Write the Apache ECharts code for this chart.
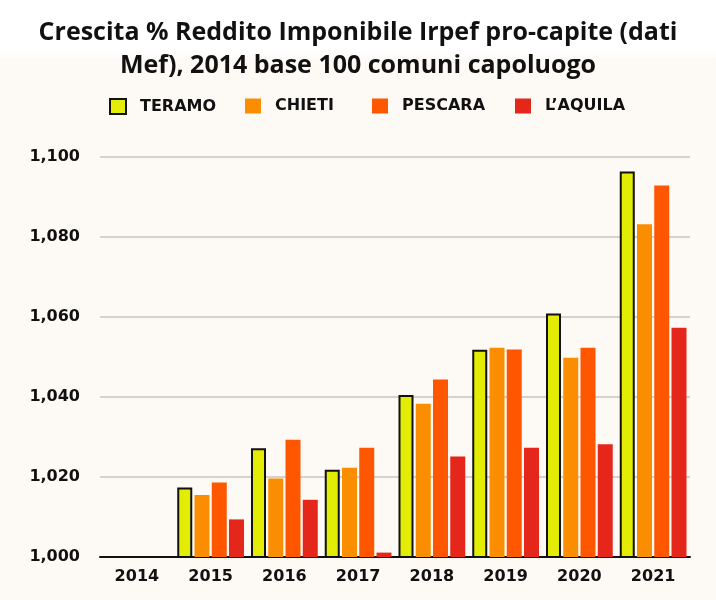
<!DOCTYPE html>
<html><head><meta charset="utf-8">
<script src="https://cdn.jsdelivr.net/npm/echarts@6/dist/echarts.min.js"></script>
<style>html,body{margin:0;padding:0;background:#fdf9f5}#c{width:716px;height:600px}</style>
</head><body><div id="c"></div>
<script>
const years = ['2014','2015','2016','2017','2018','2019','2020','2021'];
const teramo  = [1.000, 1.0174, 1.0272, 1.0218, 1.0405, 1.0518, 1.0609, 1.0964];
const chieti  = [1.000, 1.0155, 1.0196, 1.0223, 1.0383, 1.0523, 1.0498, 1.0832];
const pescara = [1.000, 1.0186, 1.0293, 1.0273, 1.0444, 1.0519, 1.0523, 1.0929];
const laquila = [1.000, 1.0094, 1.0143, 1.0011, 1.0251, 1.0273, 1.0282, 1.0573];
const seriesNames = ['TERAMO','CHIETI','PESCARA','L\u2019AQUILA'];
const yTickLabels = ['1,000','1,020','1,040','1,060','1,080','1,100'];

const chart = echarts.init(document.getElementById('c'), null, {renderer:'canvas'});
const colors = ['#e3ec04','#fb8d00','#ff5700','#e5261a'];
const base = {type:'bar', barWidth:15, barGap:'15%', barCategoryGap:'8%'};
const legendLefts = [104, 240, 367, 510];
chart.setOption({
  backgroundColor:'#fdf9f5',
  animation:false,
  graphic:[{type:'rect', z:-1, silent:true, shape:{x:0,y:0,width:716,height:57},
    style:{fill:new echarts.graphic.LinearGradient(0,0,0,1,[{offset:0,color:'#ffffff'},{offset:0.85,color:'#ffffff'},{offset:1,color:'#fefcfa'}])}}],
  title:{text:'Crescita % Reddito Imponibile Irpef pro-capite (dati\nMef), 2014 base 100 comuni capoluogo',
    left:'center', top:11,
    textStyle:{fontFamily:'Open Sans', fontWeight:'bold', fontSize:25, lineHeight:33, color:'#111'}},
  legend: seriesNames.map((n,i)=>({left:legendLefts[i], top:93, icon:'rect', itemWidth:16, itemHeight:15,
    textStyle:{fontFamily:'DejaVu Sans', fontWeight:'bold', fontSize:16, color:'#111', padding:[0,0,0,9]},
    data:[n]})),
  grid:{left:100, right:26, top:157, bottom:43},
  xAxis:{type:'category', data:years,
    axisLine:{lineStyle:{color:'#111', width:2}}, axisTick:{show:false},
    axisLabel:{fontFamily:'DejaVu Sans', fontWeight:'bold', fontSize:16, color:'#111', margin:12}},
  yAxis:{type:'value', min:1, max:1.1, interval:0.02,
    axisLine:{show:false}, axisTick:{show:false},
    splitLine:{lineStyle:{color:'#c4c4c4', width:1.5}},
    axisLabel:{fontFamily:'DejaVu Sans', fontWeight:'bold', fontSize:16, color:'#111', margin:20,
      formatter:(v)=>yTickLabels[Math.round((v-1)/0.02)]}},
  series:[
    Object.assign({name:seriesNames[0], data:teramo, itemStyle:{color:colors[0], borderColor:'#111', borderWidth:2}}, base),
    Object.assign({name:seriesNames[1], data:chieti, itemStyle:{color:colors[1]}}, base),
    Object.assign({name:seriesNames[2], data:pescara, itemStyle:{color:colors[2]}}, base),
    Object.assign({name:seriesNames[3], data:laquila, itemStyle:{color:colors[3]}}, base)
  ]
});
</script></body></html>
